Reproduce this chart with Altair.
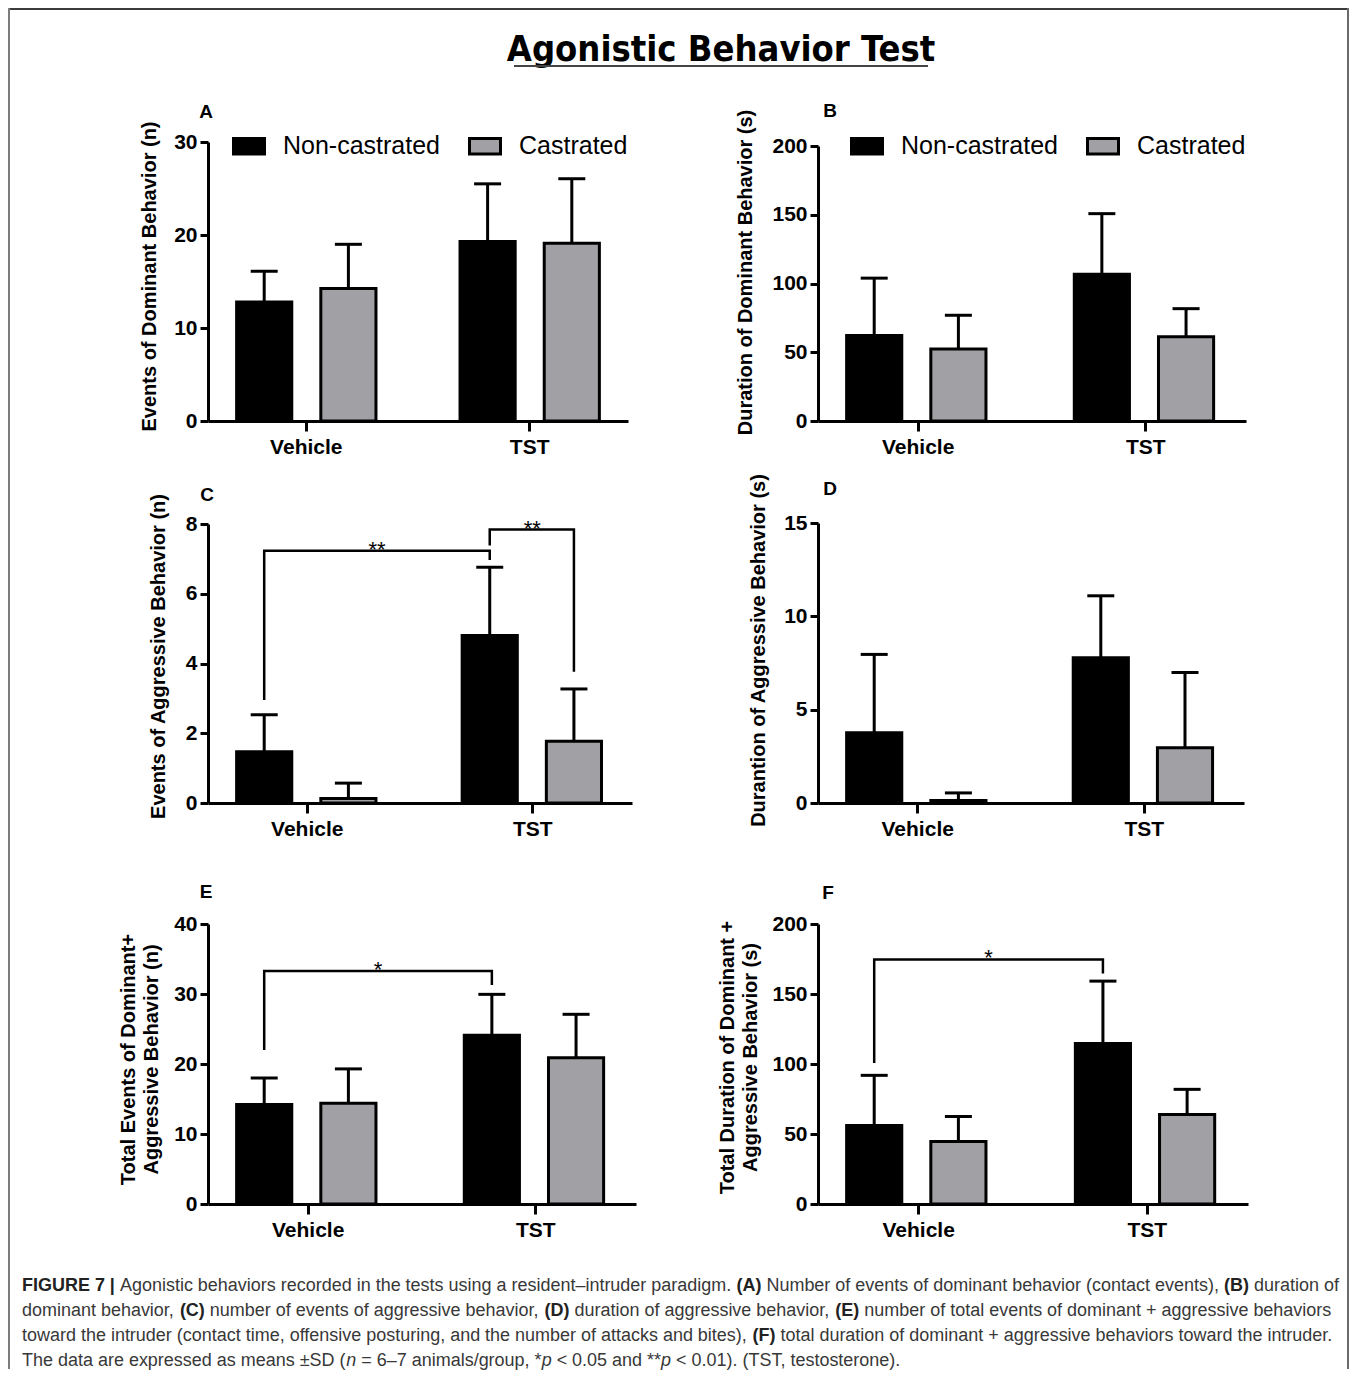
import altair as alt
import pandas as pd

# ---------------- data ----------------
GROUPS = ["Vehicle", "TST"]
SERIES = ["Non-castrated", "Castrated"]
BAR_GROUP = ["Vehicle", "Vehicle", "TST", "TST"]
BAR_SERIES = ["Non-castrated", "Castrated", "Non-castrated", "Castrated"]

A_MEAN = [12.8, 14.25, 19.3, 19.1]
A_SD = [3.3, 4.75, 6.2, 6.95]
B_MEAN = [62.2, 52.3, 106.7, 61.2]
B_SD = [41.7, 24.6, 44.1, 20.5]
C_MEAN = [1.47, 0.13, 4.80, 1.77]
C_SD = [1.06, 0.44, 1.96, 1.50]
D_MEAN = [3.76, 0.13, 7.78, 2.96]
D_SD = [4.20, 0.41, 3.32, 4.03]
E_MEAN = [14.2, 14.4, 24.1, 20.9]
E_SD = [3.8, 4.9, 5.85, 6.2]
F_MEAN = [56.1, 44.6, 114.6, 64.0]
F_SD = [35.8, 17.9, 44.6, 17.9]

A_TICKS = [0, 10, 20, 30]
B_TICKS = [0, 50, 100, 150, 200]
C_TICKS = [0, 2, 4, 6, 8]
D_TICKS = [0, 5, 10, 15]
E_TICKS = [0, 10, 20, 30, 40]
F_TICKS = [0, 50, 100, 150, 200]

A_TITLE = "Events of Dominant Behavior (n)"
B_TITLE = "Duration of Dominant Behavior (s)"
C_TITLE = "Events of Aggressive Behavior (n)"
D_TITLE = "Durantion of Aggressive Behavior (s)"
E_TITLE = ["Total Events of Dominant+", "Aggressive Behavior (n)"]
F_TITLE = ["Total Duration of Dominant +", "Aggressive Behavior (s)"]

# brackets: (from group, from series, from y, top y, to group, to series, to y, label)
C_BRACKETS = [
    ("Vehicle", "Non-castrated", 2.95, 7.23, "TST", "Non-castrated", 6.97, "**"),
    ("TST", "Non-castrated", 7.38, 7.84, "TST", "Castrated", 3.76, "**"),
]
E_BRACKETS = [("Vehicle", "Non-castrated", 22.0, 33.3, "TST", "Non-castrated", 31.3, "*")]
F_BRACKETS = [("Vehicle", "Non-castrated", 100.7, 174.7, "TST", "Non-castrated", 164.7, "*")]

MAIN_TITLE = "Agonistic Behavior Test"
CAPTION = [
    [("b", "FIGURE 7 | "), ("r", "Agonistic behaviors recorded in the tests using a resident\u2013intruder paradigm. "),
     ("b", "(A) "), ("r", "Number of events of dominant behavior (contact events), "), ("b", "(B) "), ("r", "duration of")],
    [("r", "dominant behavior, "), ("b", "(C) "), ("r", "number of events of aggressive behavior, "), ("b", "(D) "),
     ("r", "duration of aggressive behavior, "), ("b", "(E) "), ("r", "number of total events of dominant + aggressive behaviors")],
    [("r", "toward the intruder (contact time, offensive posturing, and the number of attacks and bites), "), ("b", "(F) "),
     ("r", "total duration of dominant + aggressive behaviors toward the intruder.")],
    [("r", "The data are expressed as means \u00b1SD ("), ("i", "n"), ("r", " = 6\u20137 animals/group, *"), ("i", "p"),
     ("r", " < 0.05 and **"), ("i", "p"), ("r", " < 0.01). (TST, testosterone).")],
]

# ---------------- style ----------------
FONT = "Liberation Sans, Arial, Helvetica, sans-serif"
TITLE_FONT = "DejaVu Sans Condensed, Liberation Sans Narrow, sans-serif"
GRAY = "#a1a1a5"
PI, PO = 0.12, 0.0
OPI, OPO = 0.345, 0.34

# Arial / Liberation Sans advance widths (1/1000 em) for caption layout
REG = {}
for ch, w in zip(" !\"#$%&'()*+,-./", [278, 278, 355, 556, 556, 889, 667, 191, 333, 333, 389, 584, 278, 333, 278, 278]):
    REG[ch] = w
for ch in "0123456789":
    REG[ch] = 556
REG.update({":": 278, ";": 278, "<": 584, "=": 584, ">": 584, "?": 556, "|": 260, "\u2013": 556, "\u00b1": 584})
for ch, w in zip("ABCDEFGHIJKLMNOPQRSTUVWXYZ", [667, 667, 722, 722, 667, 611, 778, 722, 278, 500, 667, 556, 833, 722, 778, 667, 778, 722, 667, 611, 722, 667, 944, 667, 667, 611]):
    REG[ch] = w
for ch, w in zip("abcdefghijklmnopqrstuvwxyz", [556, 556, 500, 556, 556, 278, 556, 556, 222, 222, 500, 222, 833, 556, 556, 556, 556, 333, 500, 278, 556, 500, 722, 500, 500, 500]):
    REG[ch] = w
BOLD = dict(REG)
BOLD.update({"|": 280})
for ch, w in zip("ABCDEFGHIJKLMNOPQRSTUVWXYZ", [722, 722, 722, 722, 667, 611, 778, 722, 278, 556, 722, 611, 833, 722, 778, 667, 778, 722, 667, 611, 722, 667, 944, 667, 667, 611]):
    BOLD[ch] = w


def em(text, sty):
    table = BOLD if sty == "b" else REG
    return sum(table.get(c, 556) for c in text) / 1000.0


CAP_LEFT = -186.0      # relative to panel A origin
CAP_BASE = 1148.5
CAP_LEAD = 25.3
CAP_FS = 1317.0 / sum(em(t, s) for s, t in CAPTION[0])

rows = []
for li, line in enumerate(CAPTION):
    x = CAP_LEFT
    for sty, text in line:
        stripped = text.lstrip(" ")
        x += em(text[: len(text) - len(stripped)], sty) * CAP_FS
        core = stripped.rstrip(" ")
        if core:
            rows.append({"px": round(x, 2), "py": CAP_BASE + li * CAP_LEAD, "txt": core, "sty": sty})
        x += em(stripped, sty) * CAP_FS
cap_df = pd.DataFrame(rows)
one = pd.DataFrame({"k": [0]})


def bar_center(W, grp, ser):
    step = W / (2 - PI + 2 * PO)
    gx = step * PO + GROUPS.index(grp) * step
    bw = step * (1 - PI)
    sstep = bw / (2 - OPI + 2 * OPO)
    sx = sstep * OPO + SERIES.index(ser) * sstep
    return gx + sx + sstep * (1 - OPI) / 2


def panel(letter, letter_xy, mean, sd, ymax, ticks, ytitle, W, H, yrange, tpad, ty,
          legend_xy=None, brackets=(), extras=()):
    bars = pd.DataFrame({"grp": BAR_GROUP, "ser": BAR_SERIES, "mean": mean,
                         "top": [round(m + s, 3) for m, s in zip(mean, sd)]})
    xscale = alt.Scale(domain=GROUPS, paddingInner=PI, paddingOuter=PO)
    oscale = alt.Scale(domain=SERIES, paddingInner=OPI, paddingOuter=OPO)
    yscale = alt.Scale(domain=[0, ymax], range=yrange, nice=False, zero=True)
    cscale = alt.Scale(domain=SERIES, range=["#000000", GRAY])
    xaxis = alt.Axis(title=None, labelAngle=0, labelFont=FONT, labelFontSize=21, labelFontWeight="bold",
                     labelColor="black", labelPadding=5, tickSize=10, tickWidth=3, tickColor="black",
                     domainWidth=3, domainColor="black", grid=False)
    yaxis = alt.Axis(title=ytitle, values=ticks, titleFont=FONT, titleFontSize=20, titleFontWeight="bold",
                     titleColor="black", titlePadding=tpad, titleY=ty, titleLineHeight=23, labelFont=FONT,
                     labelFontSize=21, labelFontWeight="bold", labelColor="black", labelPadding=3,
                     tickSize=8, tickWidth=3, tickColor="black", domainWidth=3, domainColor="black", grid=False)
    X = alt.X("grp:N", scale=xscale, axis=xaxis)
    XO = alt.XOffset("ser:N", scale=oscale)
    if legend_xy is not None:
        legend = alt.Legend(title=None, orient="none", legendX=legend_xy[0], legendY=legend_xy[1],
                            direction="horizontal", symbolType="M-1,-0.5H1V0.5H-1Z", symbolSize=961,
                            symbolStrokeColor="black", symbolStrokeWidth=3, symbolOpacity=1,
                            labelFont=FONT, labelFontSize=25, labelColor="black", labelOffset=17,
                            columnPadding=22, padding=0, labelLimit=400)
    else:
        legend = None
    base = alt.Chart(bars)
    layers = [
        base.mark_bar(stroke="black", strokeWidth=3).encode(
            x=X, xOffset=XO, y=alt.Y("mean:Q", scale=yscale, axis=yaxis),
            color=alt.Color("ser:N", scale=cscale, legend=legend)),
        base.mark_rule(color="black", strokeWidth=3).encode(
            x=X, xOffset=XO, y=alt.Y("mean:Q", scale=yscale, axis=yaxis), y2="top:Q"),
        base.mark_tick(color="black", thickness=3, size=27, orient="horizontal", opacity=1).encode(
            x=X, xOffset=XO, y=alt.Y("top:Q", scale=yscale, axis=yaxis)),
    ]
    for i, (g1, s1, y1, yt, g2, s2, y2, lab) in enumerate(brackets):
        pts = pd.DataFrame({"grp": [g1, g1, g2, g2], "ser": [s1, s1, s2, s2],
                            "v": [y1, yt, yt, y2], "o": [0, 1, 2, 3]})
        layers.append(alt.Chart(pts).mark_line(color="black", strokeWidth=2.5, strokeJoin="miter",
                                               strokeCap="butt").encode(
            x=X, xOffset=XO, y=alt.Y("v:Q", scale=yscale, axis=yaxis), order="o:Q"))
        dx = (bar_center(W, g2, s2) - bar_center(W, g1, s1)) / 2
        layers.append(alt.Chart(pts.iloc[[1]]).mark_text(
            text=lab, font=FONT, fontSize=22, color="black", dx=dx, dy=6,
            align="center", baseline="alphabetic").encode(
            x=X, xOffset=XO, y=alt.Y("v:Q", scale=yscale, axis=yaxis)))
    layers.append(alt.Chart(one).mark_text(
        text=letter, font=FONT, fontSize=19, fontWeight="bold", color="black",
        align="center", baseline="middle").encode(x=alt.value(letter_xy[0]), y=alt.value(letter_xy[1])))
    layers.extend(extras)
    return alt.layer(*layers).properties(width=W, height=H)


# decorations drawn relative to panel A origin (thin filled rects: exact bounds)
frame = [
    alt.Chart(one).mark_rect(color="#3c3c3c").encode(
        x=alt.value(-200), x2=alt.value(1141), y=alt.value(-134), y2=alt.value(-132)),
    alt.Chart(one).mark_rect(color="#7c7c7c").encode(
        x=alt.value(-200), x2=alt.value(-198), y=alt.value(-134), y2=alt.value(1227)),
    alt.Chart(one).mark_rect(color="#6a6a6a").encode(
        x=alt.value(1139), x2=alt.value(1141), y=alt.value(-134), y2=alt.value(1227)),
]
title = [
    alt.Chart(one).mark_text(text=MAIN_TITLE, font=TITLE_FONT, fontSize=36, fontWeight="bold",
                             color="black", align="center", baseline="alphabetic").encode(
        x=alt.value(513), y=alt.value(-81)),
    alt.Chart(one).mark_rect(color="#444444").encode(
        x=alt.value(306), x2=alt.value(720), y=alt.value(-77), y2=alt.value(-75)),
]


def cap_layer(sty, weight, style, color):
    return alt.Chart(cap_df).transform_filter(alt.datum.sty == sty).mark_text(
        font=FONT, fontSize=CAP_FS, fontWeight=weight, fontStyle=style, color=color,
        align="left", baseline="alphabetic").encode(
        x=alt.X("px:Q", scale=None, axis=None), y=alt.Y("py:Q", scale=None, axis=None), text="txt:N")


caption = [cap_layer("r", "normal", "normal", "#383838"),
           cap_layer("b", "bold", "normal", "#222222"),
           cap_layer("i", "normal", "italic", "#383838")]

pA = panel("A", (-2, -30), A_MEAN, A_SD, 30, A_TICKS, A_TITLE, 420, 279, [279, 0], 14, 134,
           legend_xy=(24, -13), extras=frame + title + caption)
pB = panel("B", (12, -31), B_MEAN, B_SD, 200, B_TICKS, B_TITLE, 428, 279, [279, 4], 16, 130,
           legend_xy=(32, -13))
pC = panel("C", (-1, -28), C_MEAN, C_SD, 8, C_TICKS, C_TITLE, 424, 280, [280, 1], 17, 133,
           brackets=C_BRACKETS)
pD = panel("D", (12, -34), D_MEAN, D_SD, 15, D_TICKS, D_TITLE, 426, 280, [280, 0], 15, 127)
pE = panel("E", (-2, -13), E_MEAN, E_SD, 40, E_TICKS, E_TITLE, 428, 299, [299, 19], 12, 154,
           brackets=E_BRACKETS)
pF = panel("F", (10, -12), F_MEAN, F_SD, 200, F_TICKS, F_TITLE, 430, 299, [299, 19], 11, 152,
           brackets=F_BRACKETS)

chart = alt.concat(pA, pB, pC, pD, pE, pF, columns=2, spacing={"row": 102, "column": 182},
                   bounds="flush", align="each").resolve_legend(color="independent").properties(
    padding={"left": 0, "top": 0, "right": 0, "bottom": 0},
    autosize=alt.AutoSizeParams(type="pad")).configure(font=FONT).configure_view(
    stroke="transparent", strokeWidth=0)

chart.save("out.html", embed_options={"renderer": "svg", "actions": False})
